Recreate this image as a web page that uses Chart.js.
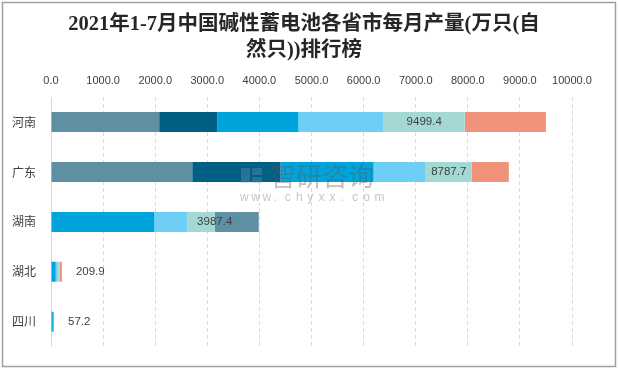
<!DOCTYPE html>
<html><head><meta charset="utf-8">
<script src="https://cdn.jsdelivr.net/npm/chart.js@4.4.1/dist/chart.umd.min.js"></script>
<style>
html,body{margin:0;padding:0;background:#fff}
#wrap{position:relative;width:618px;height:369px}
canvas{display:block}
</style>
</head><body>
<div id="wrap"><canvas id="c" width="618" height="369"></canvas></div>
<script>
// ---- data ----
const provinces = ['河南', '广东', '湖南', '湖北', '四川'];
const titleLines = ['2021年1-7月中国碱性蓄电池各省市每月产量(万只(自', '然只))排行榜'];
const seriesNames = ['1月', '2月', '3月', '4月', '5月', '6月', '7月'];
const s1 = [2076.5, 2711.0, 0, 0, 15.0];
const s2 = [1115.3, 1692.0, 0, 0, 0];
const s3 = [1558.0, 1788.5, 1984.0, 90.0, 22.0];
const s4 = [1634.2, 1000.0, 636.0, 40.0, 0];
const s5 = [1558.0, 884.5, 522.0, 40.0, 0];
const s6 = [1557.4, 711.7, 0, 39.9, 20.2];
const s7 = [0, 0, 845.4, 0, 0];
const totals = [9499.4, 8787.7, 3987.4, 209.9, 57.2];
const axisMin = 0, axisMax = 10000, axisStep = 1000;

const seriesValues = [s1, s2, s3, s4, s5, s6, s7];
const seriesColors = ['#5F8FA3', '#005F85', '#00A4DC', '#6DCFF6', '#A3D8D4', '#F0937A', '#5F8FA3'];

const frame = {
  id: 'frame',
  beforeDraw(chart) {
    const ctx = chart.ctx;
    ctx.save();
    ctx.fillStyle = '#fff';
    ctx.fillRect(0, 0, chart.width, chart.height);
    ctx.strokeStyle = '#a0a0a0';
    ctx.lineWidth = 1.5;
    ctx.strokeRect(2.5, 2.5, chart.width - 5, chart.height - 5);
    ctx.restore();
  },
  afterDraw(chart) {
    const ctx = chart.ctx;
    ctx.save();
    ctx.fillStyle = '#262626';
    ctx.font = "bold 20.5px 'Liberation Serif','Noto Sans CJK SC'";
    ctx.textAlign = 'center';
    ctx.textBaseline = 'middle';
    const cx = chart.width / 2 - 5;
    titleLines.forEach((t, i) => ctx.fillText(t, cx, 25 + i * 26));
    ctx.restore();
  }
};

const watermark = {
  id: 'watermark',
  afterDatasetsDraw(chart) {
    const ctx = chart.ctx;
    ctx.save();
    ctx.fillStyle = 'rgba(120,150,180,0.35)';
    ctx.fillRect(241, 168, 9, 15);
    ctx.fillRect(252, 168, 10, 7);
    ctx.fillRect(252, 177, 10, 6);
    ctx.fillStyle = 'rgba(90,90,90,0.38)';
    ctx.font = '26px "Noto Sans CJK SC"';
    ctx.textBaseline = 'middle';
    ctx.textAlign = 'left';
    ctx.fillText('智研咨询', 270, 176);
    ctx.font = '12px "Liberation Sans"';
    ctx.fillStyle = 'rgba(110,110,110,0.4)';
    const w = 'www.chyxx.com';
    for (let i = 0; i < w.length; i++) ctx.fillText(w[i], 240 + i * 11.2, 198);
    ctx.restore();
  }
};

const totalLabels = {
  id: 'totalLabels',
  afterDatasetsDraw(chart) {
    const ctx = chart.ctx;
    const meta = chart.getDatasetMeta(4);
    const xs = chart.scales.x;
    ctx.save();
    ctx.font = '11.5px "Liberation Sans"';
    ctx.fillStyle = '#404040';
    ctx.textBaseline = 'middle';
    totals.forEach((t, i) => {
      const el = meta.data[i];
      const txt = t.toFixed(1);
      if (t > 1000) {
        ctx.textAlign = 'center';
        const segW = Math.abs(el.x - el.base);
        const x = segW < ctx.measureText(txt).width ? el.x : (el.x + el.base) / 2;
        ctx.fillText(txt, x, el.y);
      } else {
        ctx.textAlign = 'left';
        ctx.fillText(txt, xs.getPixelForValue(t) + 14, el.y);
      }
    });
    ctx.restore();
  }
};

new Chart(document.getElementById('c'), {
  type: 'bar',
  data: {
    labels: provinces,
    datasets: seriesValues.map((vals, k) => ({
      label: seriesNames[k],
      data: vals,
      backgroundColor: seriesColors[k],
      borderWidth: 0,
      categoryPercentage: 0.8,
      barPercentage: 0.5
    }))
  },
  options: {
    indexAxis: 'y',
    responsive: false,
    animation: false,
    devicePixelRatio: 1,
    layout: { padding: { left: 0, right: 46, top: 65, bottom: 19 } },
    plugins: {
      legend: { display: false },
      tooltip: { enabled: false },
      title: { display: false }
    },
    scales: {
      x: {
        position: 'top',
        stacked: true,
        min: axisMin,
        max: axisMax,
        afterFit(s) { s.height = 32; },
        ticks: {
          stepSize: axisStep,
          padding: 9,
          color: '#404040',
          font: { family: "'Liberation Sans'", size: 11 },
          callback: v => Number(v).toFixed(1)
        },
        grid: { color: '#d9d9d9', lineWidth: 1, drawTicks: false },
        border: { display: false, dash: [4, 3] }
      },
      y: {
        stacked: true,
        afterFit(s) { s.width = 51; },
        ticks: {
          padding: 15,
          color: '#404040',
          font: { family: "'Noto Sans CJK SC'", size: 12 }
        },
        grid: { display: false, drawTicks: false },
        border: { display: true, color: '#d9d9d9', width: 1 }
      }
    }
  },
  plugins: [frame, watermark, totalLabels]
});
</script>
</body></html>
